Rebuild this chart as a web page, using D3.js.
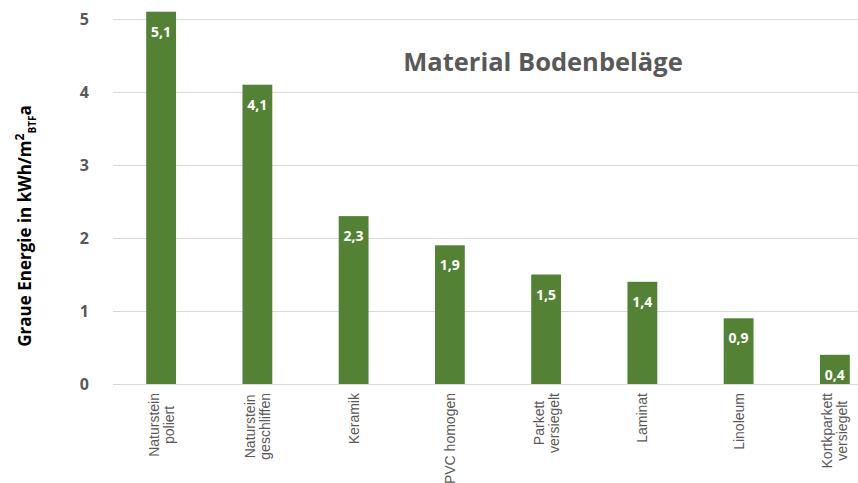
<!DOCTYPE html>
<html>
<head>
<meta charset="utf-8">
<script src="https://cdn.jsdelivr.net/npm/d3@7"></script>
<style>
  body { margin: 0; background: #fff; }
</style>
</head>
<body>
<div id="plot"></div>
<script>
var categories = ["Naturstein\npoliert", "Naturstein\ngeschliffen", "Keramik", "PVC homogen",
                  "Parkett\nversiegelt", "Laminat", "Linoleum", "Kortkparkett\nversiegelt"];
var values = [5.1, 4.1, 2.3, 1.9, 1.5, 1.4, 0.9, 0.4];
var yTicks = [0, 1, 2, 3, 4, 5];

var svg = d3.select("div#plot")
            .append("svg")
            .attr("width", "858")
            .attr("height", "483");

var grey = "#595959";
var green = "#548235";

var xScale = d3.scaleBand()
  .domain(categories)
  .range([113, 883])
  .paddingInner(0.69)
  .paddingOuter(0.345);
var yScale = d3.scaleLinear()
  .domain([0, 5])
  .range([384, 19]);

// gridlines + y tick labels
var yAxis = svg.append("g")
  .attr("transform", "translate(113,0)")
  .call(d3.axisLeft(yScale).tickValues(yTicks).tickFormat(d3.format("d")).tickSize(-760).tickPadding(24));
yAxis.select(".domain").remove();
yAxis.selectAll("line").attr("stroke", "#d9d9d9");
yAxis.selectAll("text")
  .attr("fill", grey)
  .style("font-family", "'Open Sans', sans-serif")
  .style("font-weight", "bold")
  .style("font-size", "16px");

// bars
svg.selectAll("rect.bar")
  .data(values)
  .enter().append("rect")
  .attr("class", "bar")
  .attr("x", (d, i) => xScale(categories[i]))
  .attr("y", d => yScale(d))
  .attr("width", xScale.bandwidth())
  .attr("height", d => yScale(0) - yScale(d))
  .attr("fill", green);

// value labels
svg.selectAll("text.val")
  .data(values)
  .enter().append("text")
  .attr("class", "val")
  .attr("x", (d, i) => xScale(categories[i]) + xScale.bandwidth() / 2)
  .attr("y", d => yScale(d) + 25)
  .attr("text-anchor", "middle")
  .attr("fill", "#fff")
  .style("font-family", "'Open Sans', sans-serif")
  .style("font-weight", "bold")
  .style("font-size", "14px")
  .text(d => String(d).replace(".", ","));

// x axis line + rotated category labels
var xAxis = svg.append("g")
  .attr("transform", "translate(0,384)")
  .call(d3.axisBottom(xScale).tickSize(0));
xAxis.select(".domain").attr("stroke", "#d9d9d9").attr("d", "M113,0.5H858");
xAxis.selectAll(".tick text").each(function(d) {
  var t = d3.select(this);
  var lines = d.split("\n");
  t.text(null)
    .attr("y", null).attr("dy", null)
    .attr("transform", "rotate(-90)")
    .attr("text-anchor", "middle")
    .attr("fill", grey)
    .style("font-family", "'Liberation Sans Narrow', 'Arial Narrow', sans-serif")
    .style("font-size", "14px");
  var spans = lines.map(function(l, i) {
    return t.append("tspan")
      .attr("y", 5 + (i - (lines.length - 1) / 2) * 15)
      .text(l);
  });
  var maxW = d3.max(spans, s => s.node().getComputedTextLength());
  spans.forEach(s => s.attr("x", -(9 + maxW / 2)));
});

// title
svg.append("text")
  .attr("x", 543)
  .attr("y", 71)
  .attr("text-anchor", "middle")
  .attr("fill", grey)
  .style("font-family", "'Open Sans', sans-serif")
  .style("font-weight", "bold")
  .style("font-size", "25.5px")
  .text("Material Bodenbeläge");

// y axis label
var yl = svg.append("text")
  .attr("transform", "translate(31,226) rotate(-90)")
  .attr("text-anchor", "middle")
  .attr("fill", "#000")
  .style("font-family", "'Open Sans', sans-serif")
  .style("font-weight", "bold")
  .style("font-size", "17px");
yl.append("tspan").text("Graue Energie in kWh/m");
yl.append("tspan").attr("dy", -7).style("font-size", "12px").text("2");
yl.append("tspan").attr("dy", 12).style("font-size", "10px").text("BTF");
yl.append("tspan").attr("dy", -5).text("a");
</script>
</body>
</html>
